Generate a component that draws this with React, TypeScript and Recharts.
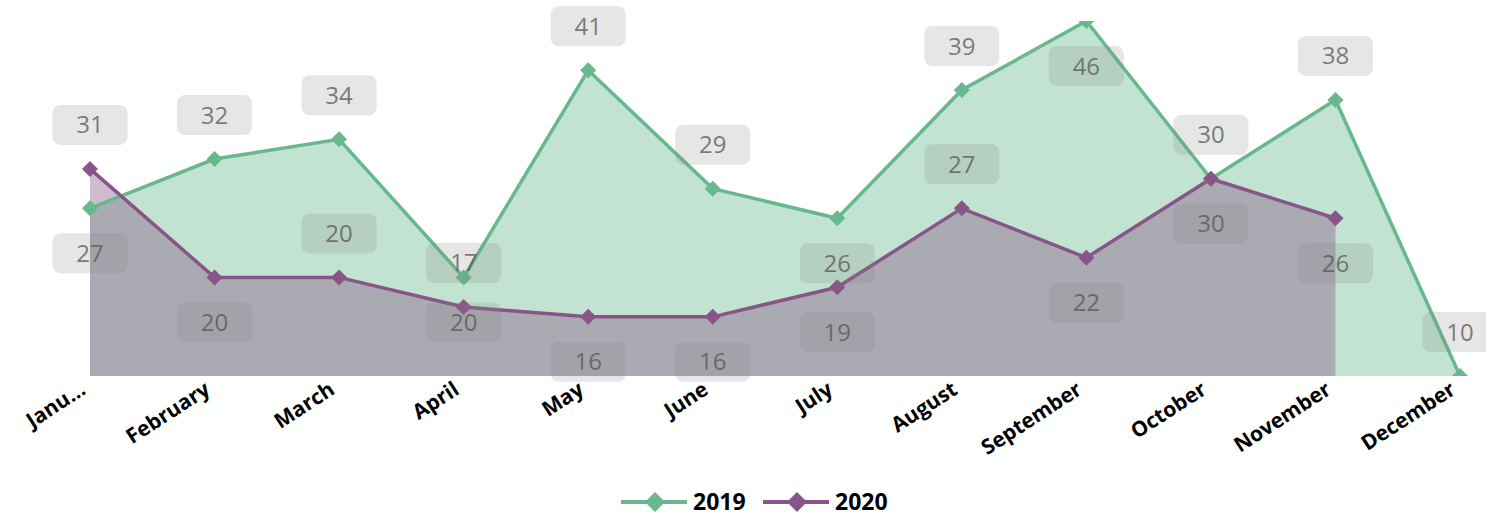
import { Area, ComposedChart, LabelList, Line, XAxis, YAxis } from "recharts";

const months = [
  "January",
  "February",
  "March",
  "April",
  "May",
  "June",
  "July",
  "August",
  "September",
  "October",
  "November",
  "December"
];
const tickLabels = [
  "Janu...",
  "February",
  "March",
  "April",
  "May",
  "June",
  "July",
  "August",
  "September",
  "October",
  "November",
  "December"
];
const values2019 = [27, 32, 34, 20, 41, 29, 26, 39, 46, 30, 38, 10];
const values2020: Array<number | null> = [31, 20, 20, 17, 16, 16, 19, 27, 22, 30, 26, null];
// where each data label sits relative to its point
const labelSide2019 = ["below", "above", "above", "below", "above", "above", "below", "above", "below", "above", "above", "above"];
const labelSide2020 = ["above", "below", "above", "above", "below", "below", "below", "above", "below", "below", "below"];
const seriesNames = ["2019", "2020"];

const GREEN = "#67b88c";
const PURPLE = "#875587";
const FONT = "'Open Sans', 'Noto Sans', sans-serif";

const data = months.map((month, i) => ({
  month,
  tick: tickLabels[i],
  y2019: values2019[i],
  y2020: values2020[i]
}));

function diamond(color: string) {
  return (props: any) => {
    const { cx, cy, index } = props;
    if (cx == null || cy == null) return <g key={index} />;
    const r = 8;
    return (
      <polygon
        key={index}
        points={`${cx},${cy - r} ${cx + r},${cy} ${cx},${cy + r} ${cx - r},${cy}`}
        fill={color}
      />
    );
  };
}

function boxLabel(sides: string[]) {
  return (props: any) => {
    const { x, y, value, index } = props;
    if (value == null || x == null || y == null) return null;
    const cy = sides[index] === "above" ? y - 44 : y + 45;
    return (
      <g key={index}>
        <rect x={x - 37.5} y={cy - 20} width={75} height={40} rx={8} fill="#808080" fillOpacity={0.2} />
        <text
          x={x}
          y={cy + 8.5}
          textAnchor="middle"
          fontFamily={FONT}
          fontSize={24}
          fill="#555555"
          fillOpacity={0.75}
        >
          {value}
        </text>
      </g>
    );
  };
}

function MonthTick(props: any) {
  const { x, y, payload } = props;
  const tx = x - 3;
  const ty = y + 9;
  return (
    <text
      x={tx}
      y={ty}
      transform={`rotate(-33 ${tx} ${ty})`}
      textAnchor="end"
      fontFamily={FONT}
      fontWeight={700}
      fontSize={21}
      fill="#000"
    >
      {payload.value}
    </text>
  );
}

// legend drawn as svg: line + diamond marker, then the series name
function LegendItem({ x, color, name }: { x: number; color: string; name: string }) {
  const cy = 22;
  return (
    <g>
      <line x1={x} y1={cy} x2={x + 66} y2={cy} stroke={color} strokeWidth={4} />
      <polygon points={`${x + 34},${cy - 10} ${x + 44},${cy} ${x + 34},${cy + 10} ${x + 24},${cy}`} fill={color} />
      <text x={x + 72} y={cy + 8} fontFamily={FONT} fontWeight={700} fontSize={23} fill="#000">
        {name}
      </text>
    </g>
  );
}

export default function App() {
  return (
    <div style={{ position: "absolute", left: 0, top: 0, width: 1486, height: 516, background: "#fff" }}>
      <ComposedChart width={1486} height={516} data={data} margin={{ top: 21, right: 26, left: 90, bottom: 50 }}>
        <XAxis
          dataKey="tick"
          scale="point"
          interval={0}
          axisLine={false}
          tickLine={false}
          height={90}
          tick={<MonthTick />}
        />
        <YAxis hide type="number" domain={[10, 46]} allowDataOverflow />
        <Area
          dataKey="y2019"
          stroke="none"
          fill={GREEN}
          fillOpacity={0.4}
          dot={false}
          activeDot={false}
          isAnimationActive={false}
        />
        <Area
          dataKey="y2020"
          stroke="none"
          fill={PURPLE}
          fillOpacity={0.4}
          dot={false}
          activeDot={false}
          isAnimationActive={false}
        />
        <Line
          dataKey="y2019"
          stroke={GREEN}
          strokeWidth={3.5}
          dot={diamond(GREEN)}
          activeDot={false}
          isAnimationActive={false}
        />
        <Line
          dataKey="y2020"
          stroke={PURPLE}
          strokeWidth={3.5}
          dot={diamond(PURPLE)}
          activeDot={false}
          isAnimationActive={false}
        />
        <Line dataKey="y2019" stroke="none" dot={false} activeDot={false} isAnimationActive={false}>
          <LabelList dataKey="y2019" content={boxLabel(labelSide2019)} />
        </Line>
        <Line dataKey="y2020" stroke="none" dot={false} activeDot={false} isAnimationActive={false}>
          <LabelList dataKey="y2020" content={boxLabel(labelSide2020)} />
        </Line>
      </ComposedChart>
      <svg
        width={1486}
        height={36}
        style={{ position: "absolute", left: 0, top: 480, display: "block", pointerEvents: "none" }}
      >
        <LegendItem x={621} color={GREEN} name={seriesNames[0]} />
        <LegendItem x={763} color={PURPLE} name={seriesNames[1]} />
      </svg>
    </div>
  );
}
